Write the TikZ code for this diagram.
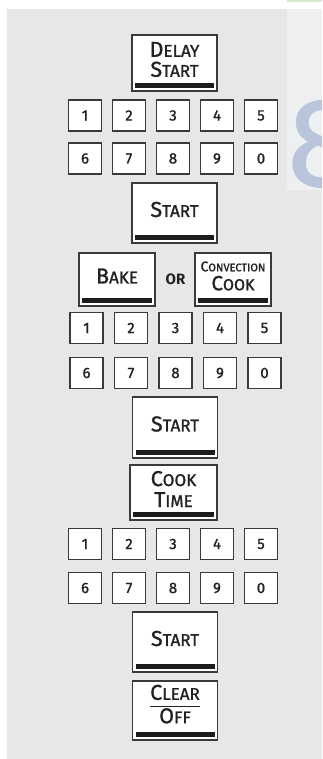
\documentclass[tikz,border=0pt]{standalone}
\usepackage{xcolor}
\usepackage{fontspec}
\setmainfont{Fira Sans}[UprightFeatures={FakeBold=1.2}]

\definecolor{panel}{HTML}{E6E7E9}
\definecolor{sidestrip}{HTML}{EDEFF1}
\definecolor{ghost}{HTML}{B9C5DA}
\definecolor{tipgreen}{HTML}{D4EACB}
\definecolor{keyline}{HTML}{3A3A3A}
\definecolor{keybar}{HTML}{1C1C1C}
\definecolor{keytext}{HTML}{222222}

% big first letter, small caps after it
\newcommand{\smcap}[2]{{\fontsize{21.5}{20}\selectfont #1}{\fontsize{17}{20}\selectfont #2}}

\tikzset{
  padkey/.style={draw=keyline, line width=1.2pt, fill=white, inner sep=0pt,
    minimum width=85pt, minimum height=#1,
    path picture={\fill[keybar] ([xshift=3pt,yshift=3pt]path picture bounding box.south west)
      rectangle ([xshift=-3pt,yshift=8pt]path picture bounding box.south east);}},
  padtext/.style={yshift=3.5pt, align=center, text=keytext, inner sep=0pt,
    font=\fontsize{17}{20}\selectfont},
  digitkey/.style={draw=keyline, line width=1.2pt, fill=white, text=keytext,
    minimum width=33pt, minimum height=31pt, inner sep=0pt, font=\fontsize{15}{15}\selectfont},
}

\begin{document}
\begin{tikzpicture}[x=1pt, y=-1pt]
\useasboundingbox (0,0) rectangle (322,759);
\fill[white] (0,0) rectangle (322,759);
\fill[panel] (7,9) rectangle (322,759);
\fill[sidestrip] (287,9) rectangle (322,190);
\fill[tipgreen] (287,0) rectangle (322,2.5);
\begin{scope}
  \clip (287,9) rectangle (322,190);
  \node[text=ghost, inner sep=0pt, font=\fontsize{125}{125}\selectfont] (ghost_eight) at (322,144) {8};
\end{scope}

% first step: delay start and a time
\node[padkey=56pt, label={[padtext]center:\smcap{D}{ELAY}\\\smcap{S}{TART}}] (delay_start) at (174.5,63) {};
\foreach \row/\keys in {0/{1,2,3,4,5},1/{6,7,8,9,0}}
  \foreach \digit [count=\col from 0] in \keys
    \node[digitkey] (delay_key_\digit) at (85+44*\col,115.5+43*\row) {\digit};
\node[padkey=60pt, label={[padtext]center:\smcap{S}{TART}}] (start_one) at (174.5,213) {};

% second step: bake or convection cook, then a temperature
\node[padkey=53pt, minimum width=76pt, label={[padtext]center:\smcap{B}{AKE}}] (bake) at (117,279.5) {};
\node[text=keytext, font=\fontsize{15}{15}\selectfont\bfseries] (or_label) at (175.5,279) {OR};
\node[padkey=53pt, minimum width=76pt,
  label={[padtext, font=\fontsize{14}{19}\selectfont]center:{\fontsize{14}{19}\selectfont C}{\fontsize{11}{19}\selectfont ONVECTION}\\{\fontsize{20.5}{19}\selectfont C}{\fontsize{16}{19}\selectfont OOK}}] (convection_cook) at (233,279.5) {};
\foreach \row/\keys in {0/{1,2,3,4,5},1/{6,7,8,9,0}}
  \foreach \digit [count=\col from 0] in \keys
    \node[digitkey] (temp_key_\digit) at (86.5+44.5*\col,328+45*\row) {\digit};
\node[padkey=61pt, label={[padtext]center:\smcap{S}{TART}}] (start_two) at (175,427.5) {};

% third step: cook time
\node[padkey=55pt, minimum width=87pt, label={[padtext, font=\fontsize{17}{21}\selectfont]center:\smcap{C}{OOK}\\\smcap{T}{IME}}] (cook_time) at (173.5,492.5) {};
\foreach \row/\keys in {0/{1,2,3,4,5},1/{6,7,8,9,0}}
  \foreach \digit [count=\col from 0] in \keys
    \node[digitkey] (time_key_\digit) at (85+44*\col,544+44*\row) {\digit};
\node[padkey=60pt, label={[padtext]center:\smcap{S}{TART}}] (start_three) at (175,642) {};

% end: clear / off
\node[padkey=59pt, label={[padtext]center:{\setlength{\arrayrulewidth}{1.4pt}%
  \begin{tabular}{@{}c@{}}\smcap{C}{LEAR}\\\hline\rule{0pt}{16pt}\smcap{O}{FF}\end{tabular}}}] (clear_off) at (175,710.5) {};
\end{tikzpicture}
\end{document}
